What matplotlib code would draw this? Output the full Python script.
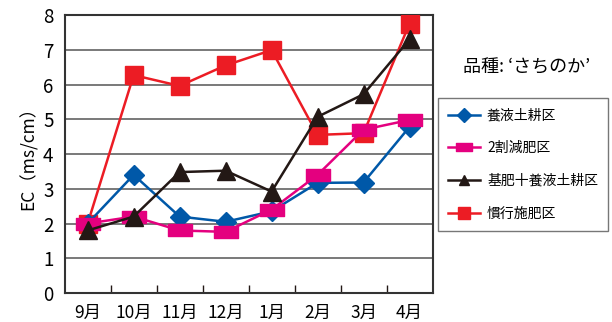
import matplotlib
matplotlib.use("Agg")
import matplotlib.pyplot as plt
from matplotlib.lines import Line2D
from matplotlib.path import Path
import numpy as np

plt.rcParams['font.family'] = ['Noto Sans CJK JP', 'DejaVu Sans']

months = ['9月', '10月', '11月', '12月', '1月', '2月', '3月', '4月']
s_youeki = [2.0, 3.4, 2.2, 2.05, 2.35, 3.17, 3.18, 4.78]
s_2wari = [2.0, 2.2, 1.8, 1.76, 2.4, 3.4, 4.7, 4.98]
s_kihi = [1.8, 2.2, 3.48, 3.52, 2.92, 5.07, 5.72, 7.3]
s_kanko = [2.0, 6.27, 5.96, 6.55, 6.99, 4.55, 4.6, 7.75]
labels = ['養液土耕区', '2割減肥区', '基肥十養液土耕区', '慣行施肥区']

blue = '#0058A8'
pink = '#E4007F'
black = '#231815'
red = '#EC1C24'

rect = Path([(-1, -0.5), (1, -0.5), (1, 0.5), (-1, 0.5), (-1, -0.5)],
            [Path.MOVETO, Path.LINETO, Path.LINETO, Path.LINETO, Path.CLOSEPOLY])

fig = plt.figure(figsize=(6.12, 3.22), dpi=100)
ax = fig.add_axes([0.1057, 0.09, 0.601, 0.8634])
x = np.arange(len(months))

ax.plot(x, s_kanko, color=red, lw=1.8, marker='s', ms=12.5, mec=red, zorder=3)
ax.plot(x, s_youeki, color=blue, lw=1.8, marker='D', ms=10, mec=blue, zorder=4)
ax.plot(x, s_2wari, color=pink, lw=1.8, marker=rect, ms=17, mec=pink, zorder=5)
ax.plot(x, s_kihi, color=black, lw=1.8, marker='^', ms=13, mec=black, zorder=6)

ax.set_xlim(-0.5, len(months) - 0.5)
ax.set_ylim(0, 8)
ax.set_yticks(range(0, 9))
ax.set_xticks(x)
ax.set_xticklabels(months, fontsize=12.5)
ax.set_xticks(np.arange(0.5, len(months) - 1, 1), minor=True)
ax.tick_params(axis='x', which='major', length=0, pad=8)
ax.tick_params(axis='x', which='minor', length=6, direction='in', width=1, color=black)
ax.tick_params(axis='y', length=0, labelsize=13.5, pad=8)
ax.grid(axis='y', color='#555555', lw=1.1)
ax.set_axisbelow(True)
for sp in ax.spines.values():
    sp.set_color('#333333')
    sp.set_linewidth(1.5)

ax.set_ylabel('EC（ms/cm）', fontsize=12.5, labelpad=4)

fig.text(0.86, 0.79, '品種: ‘さちのか’', fontsize=13, ha='center', va='center')

handles = [
    Line2D([], [], color=blue, lw=1.8, marker='D', ms=7, mec=blue),
    Line2D([], [], color=pink, lw=1.8, marker=rect, ms=11, mec=pink),
    Line2D([], [], color=black, lw=1.8, marker='^', ms=7, mec=black),
    Line2D([], [], color=red, lw=1.8, marker='s', ms=9, mec=red),
]
leg = fig.legend(handles, labels, loc='upper left', bbox_to_anchor=(0.713, 0.70),
                 fontsize=10, frameon=True, fancybox=False, edgecolor='#555555',
                 handlelength=2.3, labelspacing=1.35, borderpad=0.75, handletextpad=0.5,
                 borderaxespad=0.1)
leg.get_frame().set_linewidth(1.0)

fig.savefig('out.png', dpi=100)
